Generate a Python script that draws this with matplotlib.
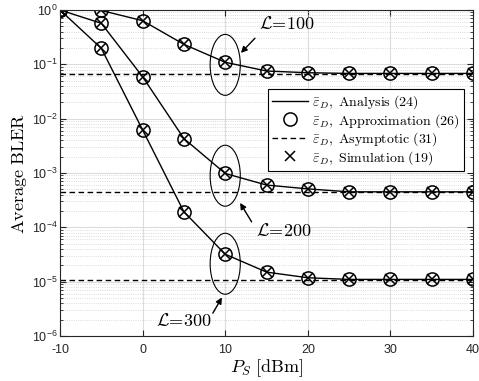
import matplotlib
matplotlib.use("Agg")
import matplotlib.pyplot as plt
from matplotlib.patches import Ellipse
from matplotlib.lines import Line2D

# transmit power P_S [dBm]
ps = [-10, -5, 0, 5, 10, 15, 20, 25, 30, 35, 40]

# average BLER for the three block lengths
bler_100 = [1.0, 0.98, 0.635, 0.233, 0.109, 0.0753, 0.070, 0.068, 0.068, 0.068, 0.068]
bler_200 = [1.0, 0.569, 0.059, 0.0043, 0.00098, 0.00060, 0.00051, 0.00045, 0.00045, 0.00045, 0.00045]
bler_300 = [1.0, 0.197, 0.0062, 1.93e-4, 3.2e-5, 1.5e-5, 1.18e-5, 1.1e-5, 1.1e-5, 1.1e-5, 1.1e-5]

# asymptotic values
asym = [0.0664, 4.45e-4, 1.07e-5]

# annotation: label, text pos, arrow tail, arrow head, ellipse centre (log10)
labels = ["100", "200", "300"]
label_pos = [(17.5, 0.55), (17.1, 8.3e-5), (5.0, 1.82e-6)]
arrow_tail = [(13.6, 10**-0.52), (13.2, 10**-3.9), (8.5, 10**-5.58)]
arrow_head = [(11.9, 10**-0.79), (11.8, 10**-3.55), (9.6, 10**-5.29)]
ellipse_log = [-1.01, -3.05, -4.67]

plt.rcParams["mathtext.fontset"] = "custom"
plt.rcParams["mathtext.rm"] = "Liberation Sans"
plt.rcParams["mathtext.it"] = "Liberation Sans:italic"
plt.rcParams["font.family"] = "Liberation Sans"

fig = plt.figure(figsize=(4.79, 3.81), dpi=100)
ax = fig.add_axes([0.1253, 0.1181, 0.8622, 0.8557])

for data, a in zip([bler_100, bler_200, bler_300], asym):
    ax.plot([ps[0], ps[-1]], [a, a], ls="--", color="black", lw=1.0, dashes=(4, 2.5))
    ax.plot(ps, data, color="black", lw=1.0)
    ax.plot(ps, data, ls="none", marker="o", ms=9.5, mfc="none",
            mec="black", mew=1.1)
    ax.plot(ps, data, ls="none", marker="x", ms=6.5, color="black", mew=1.1)

ax.set_yscale("log")
ax.set_xlim(-10, 40)
ax.set_ylim(1e-6, 1)
ax.set_xticks([-10, 0, 10, 20, 30, 40])
ax.set_xticklabels(["-10", "0", "10", "20", "30", "40"])
ax.set_yticks([10.0**k for k in range(-6, 1)])
ax.tick_params(labelsize=9, direction="in", which="both", top=True, right=True,
               colors="#262626")
ax.tick_params(which="major", length=4)
ax.tick_params(which="minor", length=2)
ax.tick_params(axis="x", pad=6)
ax.tick_params(axis="y", pad=2)
ax.grid(which="major", color="#dcdcdc", lw=0.8)
ax.grid(which="minor", axis="y", color="#d0d0d0", ls=":", lw=0.6)
ax.set_axisbelow(True)
for s in ax.spines.values():
    s.set_color("#262626")
    s.set_linewidth(0.8)

ax.set_xlabel(r"$P_S\ \mathrm{[dBm]}$", fontsize=13, math_fontfamily="cm",
              labelpad=1)
ax.set_ylabel(r"$\mathrm{Average\ BLER}$", fontsize=13, math_fontfamily="cm",
              labelpad=2)

# ellipses around the x = 10 points, drawn in axes fraction
for yc in ellipse_log:
    e = Ellipse(((10 + 10) / 50, (yc + 6) / 6), 0.073, 0.187,
                transform=ax.transAxes, fill=False, ec="black", lw=0.8)
    ax.add_patch(e)

for lab, pos, tail, head in zip(labels, label_pos, arrow_tail, arrow_head):
    ax.text(pos[0], pos[1], r"$\mathcal{L}\!=\!\mathrm{" + lab + "}$",
            fontsize=13, math_fontfamily="cm", ha="center", va="center")
    ax.annotate("", xy=head, xytext=tail,
                arrowprops=dict(arrowstyle="-|>", color="black", lw=1.0,
                                mutation_scale=9, shrinkA=0, shrinkB=0))

handles = [
    Line2D([], [], color="black", lw=1.0),
    Line2D([], [], ls="none", marker="o", ms=9.5, mfc="none", mec="black", mew=1.1),
    Line2D([], [], color="black", lw=1.0, ls="--", dashes=(4, 2.5)),
    Line2D([], [], ls="none", marker="x", ms=6.5, color="black", mew=1.1),
]
names = [
    r"$\bar{\varepsilon}_D\mathrm{,\ Analysis\ (24)}$",
    r"$\bar{\varepsilon}_D\mathrm{,\ Approximation\ (26)}$",
    r"$\bar{\varepsilon}_D\mathrm{,\ Asymptotic\ (31)}$",
    r"$\bar{\varepsilon}_D\mathrm{,\ Simulation\ (19)}$",
]
leg = ax.legend(handles, names, loc="upper right", bbox_to_anchor=(0.9775, 0.757),
                fontsize=10, fancybox=False, edgecolor="black", framealpha=1,
                handlelength=2.6, handletextpad=0.3, borderpad=0.3,
                labelspacing=0.05, borderaxespad=0)
leg.get_frame().set_linewidth(0.8)
for t in leg.get_texts():
    t.set_math_fontfamily("cm")

fig.savefig("out.png", dpi=100)
